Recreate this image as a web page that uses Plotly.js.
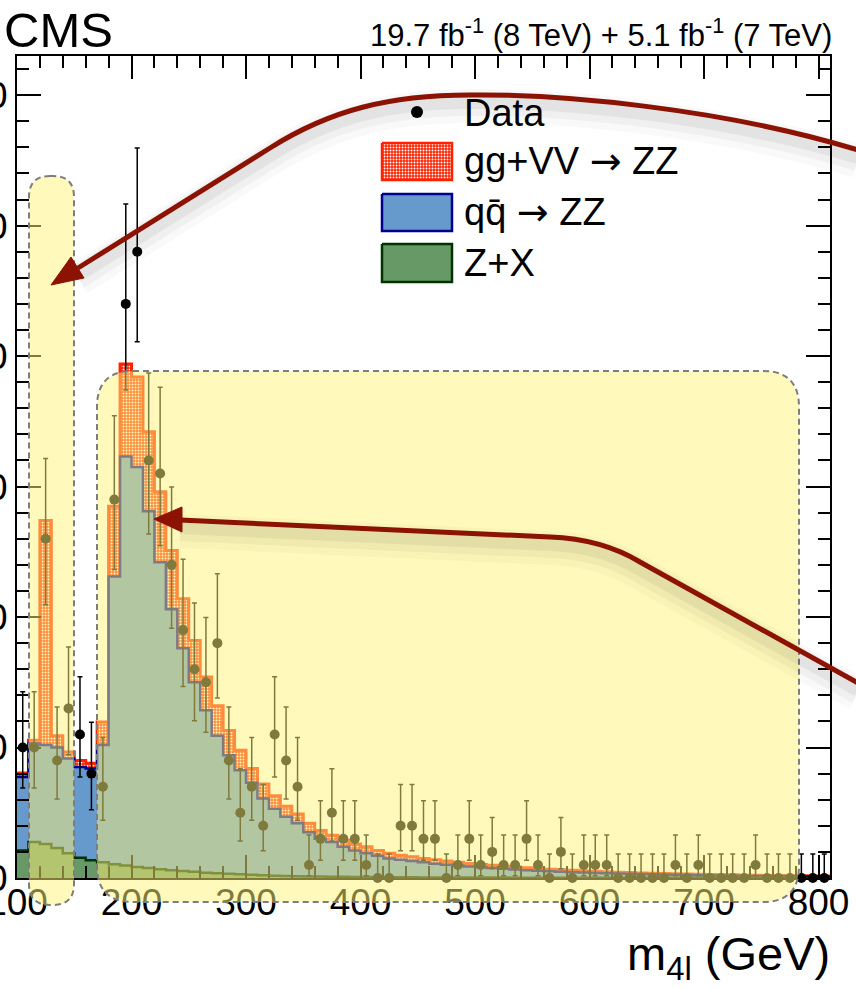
<!DOCTYPE html>
<html>
<head>
<meta charset="utf-8">
<script src="https://cdn.plot.ly/plotly-3.0.1.min.js"></script>
<style>html,body{margin:0;padding:0;background:#fff;}#chart{width:856px;height:989px;}</style>
</head>
<body>
<div id="chart"></div>
<script>
// ---- data (10 GeV bins, low edges) ----
const massBins = [100,110,120,130,140,150,160,170,180,190,200,210,220,230,240,250,260,270,280,290,
  300,310,320,330,340,350,360,370,380,390,400,410,420,430,440,450,460,470,480,490,
  500,510,520,530,540,550,560,570,580,590,600,610,620,630,640,650,660,670,680,690,
  700,710,720,730,740,750,760,770,780,790,800];
const binWidth = 10;
const dataCounts = [10,10,26,9,13,11,8,7,29,44,48,32,31,24,19,16,15,18,9,5,
  7,4,11,9,7,1,3,5,3,3,1,0,0,4,4,3,3,0,1,3,
  1,2,1,1,3,1,0,2,0,1,1,1,0,0,0,0,0,1,0,1,
  0,0,0,0,1,0,0,0,0,0,0];
const zxYield = [2.1,2.75,2.6,2.3,1.9,1.55,1.36,1.2,1.05,0.95,0.85,0.76,0.68,0.6,0.53,0.47,0.41,0.36,0.32,0.28,
  0.24,0.21,0.18,0.16,0.14,0.12,0.11,0.1,0.09,0.08,0.07,0.065,0.06,0.055,0.05,0.045,0.04,0.04,0.035,0.035,
  0.03,0.03,0.03,0.025,0.025,0.025,0.02,0.02,0.02,0.02,0.015,0.015,0.015,0.015,0.01,0.01,0.01,0.01,0.01,0.01,
  0.01,0.01,0.01,0.01,0.01,0.01,0.01,0.01,0.01,0.01,0.01];
const qqYield = [5.64,7.55,7.6,7.7,7.25,6.95,7.04,9.0,22.05,31.35,30.65,27.34,23.52,20.0,17.07,14.53,12.44,10.54,9.08,7.97,
  7.06,5.89,5.12,4.54,4.06,3.38,2.89,2.66,2.31,2.02,1.83,1.635,1.44,1.345,1.25,1.155,1.06,0.98,0.915,0.845,
  0.79,0.73,0.67,0.625,0.575,0.535,0.5,0.46,0.43,0.4,0.375,0.345,0.325,0.305,0.29,0.27,0.25,0.23,0.22,0.2,
  0.19,0.18,0.17,0.16,0.15,0.14,0.13,0.12,0.11,0.10,0.09];
const ggYield = [0.31,0.25,17.2,0.9,0.5,0.5,0.4,1.75,5.4,7.1,6.9,6.1,5.4,4.5,3.8,3.2,2.55,2.3,1.9,1.55,
  1.1,1.1,1.0,0.8,0.7,0.7,0.65,0.51,0.5,0.5,0.5,0.4,0.4,0.35,0.32,0.3,0.3,0.28,0.25,0.24,
  0.22,0.21,0.2,0.19,0.18,0.17,0.16,0.15,0.14,0.13,0.12,0.12,0.11,0.10,0.09,0.09,0.09,0.09,0.08,0.08,
  0.07,0.06,0.06,0.05,0.05,0.05,0.05,0.05,0.05,0.05,0.05];
// Poisson (Garwood 68%) intervals: count -> [down, up]
const poissonErr = {0:[0,1.841],1:[0.827,2.300],2:[1.292,2.638],3:[1.633,2.918],4:[1.914,3.163],
  5:[2.159,3.382],7:[2.581,3.770],8:[2.768,3.945],9:[2.943,4.110],10:[3.108,4.266],11:[3.265,4.417],
  13:[3.558,4.698],15:[3.828,4.958],16:[3.957,5.083],18:[4.202,5.320],19:[4.319,5.433],24:[4.864,5.958],
  26:[5.066,6.153],29:[5.356,6.433],31:[5.540,6.611],32:[5.630,6.697],44:[6.608,7.650],48:[6.905,7.942]};
const ARR = '<span style="font-family:DejaVu Sans">\u2192</span>';
const legendLabels = ['Data','gg+VV '+ARR+' ZZ','qq\u0304 '+ARR+' ZZ','Z+X'];
const yTicks = [0,10,20,30,40,50,60];
const xTicks = [100,200,300,400,500,600,700,800];

// ---- build stacked step histograms ----
const stepX = massBins.concat([massBins[massBins.length-1]+binWidth]);
function withLast(a){return a.concat([a[a.length-1]]);}
const sZX = zxYield.slice();
const sQQ = zxYield.map((v,i)=>v+qqYield[i]);
const sGG = sQQ.map((v,i)=>v+ggYield[i]);
const centers = massBins.map(b=>b+binWidth/2);
const errUp = dataCounts.map(n=>poissonErr[n][1]);
const errDn = dataCounts.map(n=>poissonErr[n][0]);

const RED='#ff2200', BLUE_F='#6699cc', BLUE_L='#000090', GREEN_F='#669966', GREEN_L='#003300';
const FONT='Liberation Sans, Arial, Helvetica, sans-serif';
const HATCH = {shape:'.', fgcolor:'#ffffff', bgcolor:RED, size:3, solidity:0.35};

const traces = [
 {x:stepX, y:withLast(sGG), type:'scatter', mode:'lines', line:{shape:'hv', color:RED, width:3},
  fill:'tozeroy', fillcolor:RED, fillpattern:HATCH, hoverinfo:'skip', showlegend:false},
 {x:stepX, y:withLast(sQQ), type:'scatter', mode:'lines', line:{shape:'hv', color:BLUE_L, width:2.5},
  fill:'tozeroy', fillcolor:BLUE_F, hoverinfo:'skip', showlegend:false},
 {x:stepX, y:withLast(sZX), type:'scatter', mode:'lines', line:{shape:'hv', color:GREEN_L, width:2.5},
  fill:'tozeroy', fillcolor:GREEN_F, hoverinfo:'skip', showlegend:false},
 {x:centers, y:dataCounts, type:'scatter', mode:'markers', cliponaxis:false,
  marker:{color:'black', size:10},
  error_y:{type:'data', symmetric:false, array:errUp, arrayminus:errDn, color:'black', thickness:1.5, width:2.5},
  hoverinfo:'skip', showlegend:false}
];

// legend swatches on an overlay axis measured in page pixels
const L = 17, R = 830, T = 56, B = 878;
const sw = {x0:382, x1:452};
const rowsY = [[143,180],[194,231],[244,282]];
function box(r){return {x:[sw.x0,sw.x1,sw.x1,sw.x0,sw.x0], y:[r[0],r[0],r[1],r[1],r[0]]};}
traces.push(Object.assign(box(rowsY[0]), {xaxis:'x2', yaxis:'y2', type:'scatter', mode:'lines', fill:'toself',
  line:{color:RED, width:2.5}, fillcolor:RED, fillpattern:HATCH, hoverinfo:'skip', showlegend:false}));
traces.push(Object.assign(box(rowsY[1]), {xaxis:'x2', yaxis:'y2', type:'scatter', mode:'lines', fill:'toself',
  line:{color:BLUE_L, width:2.5}, fillcolor:BLUE_F, hoverinfo:'skip', showlegend:false}));
traces.push(Object.assign(box(rowsY[2]), {xaxis:'x2', yaxis:'y2', type:'scatter', mode:'lines', fill:'toself',
  line:{color:GREEN_L, width:2.5}, fillcolor:GREEN_F, hoverinfo:'skip', showlegend:false}));
traces.push({x:[417], y:[112], xaxis:'x2', yaxis:'y2', type:'scatter', mode:'markers',
  marker:{color:'black', size:12}, hoverinfo:'skip', showlegend:false});

// ---- decorations in page pixels -> paper ----
function X(px){return (px-L)/(R-L);}
function Y(py){return (B-py)/(B-T);}
function P(px,py){return X(px).toFixed(5)+','+Y(py).toFixed(5);}
function roundRect(x0,y0,x1,y1,r){
  return 'M'+P(x0+r,y0)+' L'+P(x1-r,y0)+' Q'+P(x1,y0)+' '+P(x1,y0+r)+' L'+P(x1,y1-r)+' Q'+P(x1,y1)+' '+P(x1-r,y1)+
   ' L'+P(x0+r,y1)+' Q'+P(x0,y1)+' '+P(x0,y1-r)+' L'+P(x0,y0+r)+' Q'+P(x0,y0)+' '+P(x0+r,y0)+' Z';
}
const YELLOW='rgba(255,243,120,0.5)';
const shapes = [];
shapes.push({type:'path', xref:'paper', yref:'paper', layer:'above', path:roundRect(29,176,74,905,21),
  fillcolor:YELLOW, line:{color:'#7d7d7d', width:2, dash:'6px,4px'}});
shapes.push({type:'path', xref:'paper', yref:'paper', layer:'above', path:roundRect(97,371,799,902,36),
  fillcolor:YELLOW, line:{color:'#7d7d7d', width:2, dash:'6px,4px'}});

function pathFrom(cmds){
  return cmds.map(c=>c[0]+c.slice(1).map(p=>P(p[0],p[1])).join(' ')).join(' ');
}
function shiftCmds(cmds,dy){return cmds.map(c=>[c[0]].concat(c.slice(1).map(p=>[p[0],p[1]+dy])));}
const ARROW='#8c1204';
const arrow1 = [['M',[858,150]],['C',[720,108],[560,94],[470,95]],['C',[390,95],[330,110],[270,148]],['L',[78,268]]];
const head1 = [[51,285],[84,278],[71,257]];
const arrow2 = [['M',[858,683]],['L',[640,562]],['Q',[602,539],[550,537]],['L',[180,520]]];
const head2 = [[154,519],[182,507],[182,532]];
function addArrow(cmds, head){
  [[34,0.025,11],[24,0.035,9],[14,0.05,7]].forEach(s=>{
    shapes.push({type:'path', xref:'paper', yref:'paper', layer:'above', path:pathFrom(shiftCmds(cmds,s[2])),
      line:{color:'rgba(0,0,0,'+s[1]+')', width:s[0]}, fillcolor:'rgba(0,0,0,0)'});
  });
  shapes.push({type:'path', xref:'paper', yref:'paper', layer:'above', path:pathFrom(cmds),
    line:{color:ARROW, width:5}, fillcolor:'rgba(0,0,0,0)'});
  shapes.push({type:'path', xref:'paper', yref:'paper', layer:'above',
    path:'M'+P(head[0][0],head[0][1])+' L'+P(head[1][0],head[1][1])+' L'+P(head[2][0],head[2][1])+' Z',
    line:{color:ARROW, width:1}, fillcolor:ARROW});
}
addArrow(arrow1, head1);
addArrow(arrow2, head2);

const annotations = [
 {text:'CMS', xref:'paper', yref:'paper', x:X(2), y:Y(30), xanchor:'left', yanchor:'middle', showarrow:false,
  font:{family:FONT, size:49, color:'black'}},
 {text:'19.7 fb<sup>-1</sup> (8 TeV) + 5.1 fb<sup>-1</sup> (7 TeV)', xref:'paper', yref:'paper', x:X(834), y:Y(33),
  xanchor:'right', yanchor:'middle', showarrow:false, font:{family:FONT, size:31, color:'black'}},
 {text:'m<sub>4l</sub> (GeV)', xref:'paper', yref:'paper', x:X(832), y:Y(957), xanchor:'right', yanchor:'middle',
  showarrow:false, font:{family:FONT, size:47, color:'black'}}
];
const legendTextY = [113,161,212,263];
legendLabels.forEach((t,i)=>annotations.push({text:t, xref:'paper', yref:'paper', x:X(462), y:Y(legendTextY[i]),
  xanchor:'left', yanchor:'middle', showarrow:false, font:{family:FONT, size:38, color:'black'}}));

const layout = {
  width:856, height:989, margin:{l:L, r:856-R, t:T, b:989-B},
  paper_bgcolor:'white', plot_bgcolor:'white', showlegend:false,
  font:{family:FONT, color:'black'},
  xaxis:{range:[100,810], tickvals:xTicks, ticks:'inside', ticklen:23, tickwidth:2, tickcolor:'black',
    showline:true, linewidth:2, linecolor:'black', mirror:'ticks', showgrid:false, zeroline:false,
    ticklabeloverflow:'allow', ticklabelstandoff:-9,
    minor:{dtick:20, tick0:100, ticks:'inside', ticklen:12, tickwidth:2, tickcolor:'black'},
    tickfont:{family:FONT, size:37, color:'black'}},
  yaxis:{range:[0,63], tickvals:yTicks, ticks:'inside', ticklen:24, tickwidth:2, tickcolor:'black',
    showline:true, linewidth:2, linecolor:'black', mirror:'ticks', showgrid:false, zeroline:false,
    ticklabeloverflow:'allow',
    minor:{dtick:2, tick0:0, ticks:'inside', ticklen:12, tickwidth:2, tickcolor:'black'},
    tickfont:{family:FONT, size:37, color:'black'}},
  xaxis2:{overlaying:'x', range:[L,R], visible:false, fixedrange:true},
  yaxis2:{overlaying:'y', range:[B,T], visible:false, fixedrange:true},
  shapes:shapes, annotations:annotations
};
Plotly.newPlot('chart', traces, layout, {displayModeBar:false, staticPlot:true});
</script>
</body>
</html>
